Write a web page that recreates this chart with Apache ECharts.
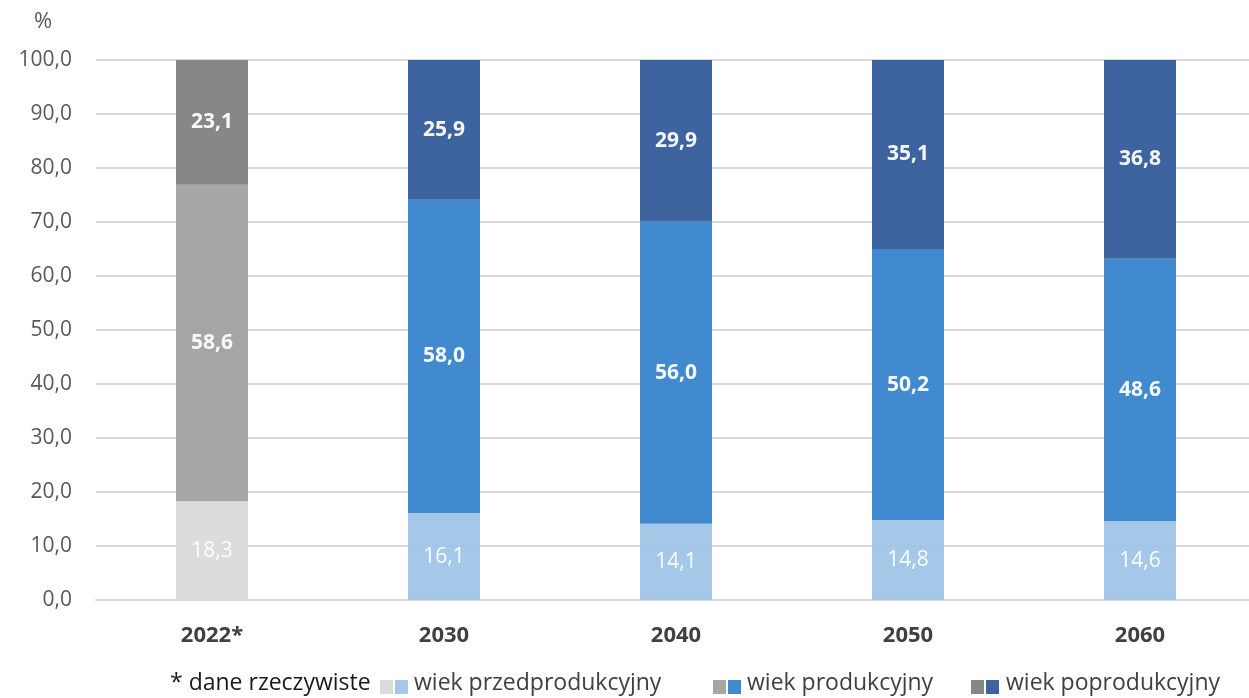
<!DOCTYPE html>
<html><head><meta charset="utf-8">
<script src="https://cdn.jsdelivr.net/npm/echarts@6/dist/echarts.min.js"></script>
<style>html,body{margin:0;padding:0;background:#fff;overflow:hidden}#c{width:1256px;height:698px}</style>
</head><body><div id="c"></div>
<script>
const categories = ['2022*', '2030', '2040', '2050', '2060'];
const preWorking = [18.3, 16.1, 14.1, 14.8, 14.6];
const working = [58.6, 58.0, 56.0, 50.2, 48.6];
const postWorking = [23.1, 25.9, 29.9, 35.1, 36.8];
const seriesNames = ['wiek przedprodukcyjny', 'wiek produkcyjny', 'wiek poprodukcyjny'];
const footnote = '* dane rzeczywiste';
const yTicks = {min: 0, max: 100, interval: 10};

// bar base colours (drawn at 95% opacity) and the resulting legend swatch colours
const grayBar = ['#DADADA', '#A1A1A1', '#818181'];
const blueBar = ['#A1C5E7', '#3784CE', '#345C9B'];
const graySwatch = ['#DCDCDC', '#A6A6A6', '#878787'];
const blueSwatch = ['#A6C8E8', '#418AD0', '#3E64A0'];
const FONT = 'Open Sans';

function mk(idx, data, bold) {
  return {
    name: seriesNames[idx], type: 'bar', stack: 'a', barWidth: 72,
    data: data.map((v, i) => ({value: v, itemStyle: {color: i === 0 ? grayBar[idx] : blueBar[idx], opacity: 0.95}})),
    label: {show: true, position: 'inside', color: '#fff', fontFamily: FONT, fontSize: 21,
      fontWeight: bold ? 'bold' : 'normal',
      formatter: p => p.value.toFixed(1).replace('.', ',')}
  };
}

const chart = echarts.init(document.getElementById('c'));
const legendY = 687;
const legendItems = [
  {x: 380, tx: 414},
  {x: 713, tx: 747},
  {x: 971, tx: 1006}
];
const LF = '23px "' + FONT + '"';
const graphic = [
  {type: 'text', left: 170, top: legendY - 15, style: {text: footnote, font: LF, fill: '#1a1a1a'}},
  {type: 'text', left: 34, top: 11, style: {text: '%', font: '22px "' + FONT + '"', fill: '#595959'}}
];
legendItems.forEach((it, i) => {
  graphic.push({type: 'rect', shape: {x: it.x, y: legendY - 7, width: 13, height: 14}, style: {fill: graySwatch[i]}});
  graphic.push({type: 'rect', shape: {x: it.x + 15, y: legendY - 7, width: 13, height: 14}, style: {fill: blueSwatch[i]}});
  graphic.push({type: 'text', left: it.tx, top: legendY - 15, style: {text: seriesNames[i], font: LF, fill: '#404040'}});
});

chart.setOption({
  animation: false,
  grid: {left: 96, top: 60, right: 0, bottom: 98, containLabel: false},
  graphic: graphic,
  xAxis: {type: 'category', data: categories,
    axisLine: {lineStyle: {color: '#D9D9D9', width: 2}}, axisTick: {show: false},
    axisLabel: {color: '#404040', fontFamily: FONT, fontSize: 22, fontWeight: 'bold', margin: 25}},
  yAxis: {type: 'value', min: yTicks.min, max: yTicks.max, interval: yTicks.interval,
    axisLine: {show: false}, axisTick: {show: false},
    splitLine: {lineStyle: {color: '#D9D9D9', width: 2}},
    axisLabel: {color: '#595959', fontFamily: FONT, fontSize: 21, margin: 24,
      formatter: v => v.toFixed(1).replace('.', ',')}},
  series: [mk(0, preWorking, false), mk(1, working, true), mk(2, postWorking, true)]
});
</script></body></html>
